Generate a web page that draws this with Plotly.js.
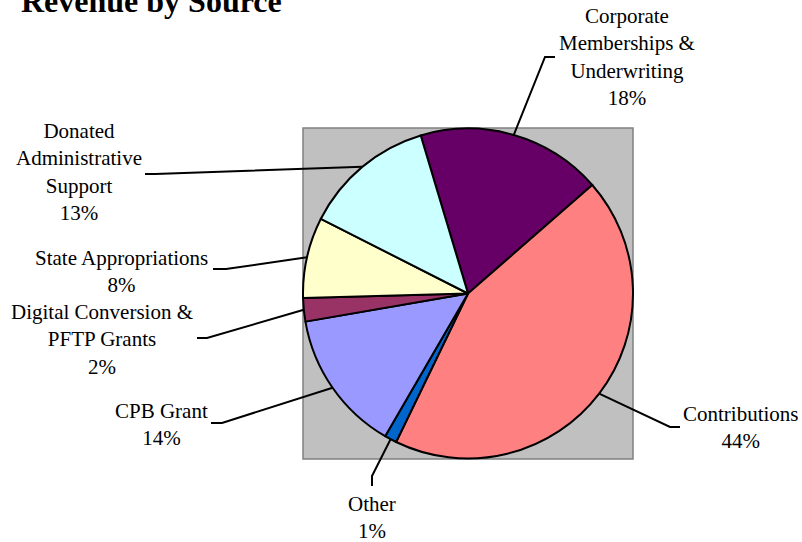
<!DOCTYPE html>
<html>
<head>
<meta charset="utf-8">
<script src="https://cdn.plot.ly/plotly-3.0.1.min.js"></script>
<style>html,body{margin:0;padding:0;background:#fff;}#chart{width:802px;height:542px;}</style>
</head>
<body>
<div id="chart"></div>
<script>
// ---- data ----
var categories = ["Corporate Memberships & Underwriting", "Contributions", "Other", "CPB Grant", "Digital Conversion & PFTP Grants", "State Appropriations", "Donated Administrative Support"];
var labelLines = ["Corporate<br>Memberships &<br>Underwriting", "Contributions", "Other", "CPB Grant", "Digital Conversion &<br>PFTP Grants", "State Appropriations", "Donated<br>Administrative<br>Support"];
var values = [18.2, 43.6, 1.2, 13.9, 2.3, 7.9, 12.9];
var colors = ["#660066", "#FF8080", "#0066CC", "#9999FF", "#993366", "#FFFFCC", "#CCFFFF"];
var titleText = "Revenue by Source";

// ---- layout (pixel positions) ----
var W = 802, H = 542;
var box = {x0: 303, x1: 633, y0: 128, y1: 459};
var rotation = -16.65;
// label block centres, anchor (where leader meets label) and elbow
var labelPos = [
  {cx: 627, cy: 57,  ax: 555, ay: 57,  ex: 545, ey: 57},
  {cx: 741, cy: 427, ax: 680, ay: 427, ex: 670, ey: 427},
  {cx: 372, cy: 517, ax: 372, ay: 486, ex: 372, ey: 476},
  {cx: 161, cy: 424, ax: 211, ay: 423, ex: 222, ey: 423},
  {cx: 102, cy: 339, ax: 197, ay: 338, ex: 207, ey: 338},
  {cx: 122, cy: 271, ax: 213, ay: 269, ex: 226, ey: 269},
  {cx: 79,  cy: 172, ax: 145, ay: 174, ex: 155, ey: 174}
];

function px(x) { return x / W; }
function py(y) { return 1 - y / H; }

var total = values.reduce(function (a, b) { return a + b; }, 0);
var cx = (box.x0 + box.x1) / 2, cy = (box.y0 + box.y1) / 2;
var r = Math.min(box.x1 - box.x0, box.y1 - box.y0) / 2;

var annotations = [];
var shapes = [{
  type: 'rect', xref: 'paper', yref: 'paper', layer: 'below',
  x0: px(box.x0), x1: px(box.x1), y0: py(box.y1), y1: py(box.y0),
  fillcolor: '#C0C0C0', line: {color: '#808080', width: 1.5}
}];

var acc = 0;
for (var i = 0; i < values.length; i++) {
  var mid = (rotation + (acc + values[i] / 2) / total * 360) * Math.PI / 180;
  acc += values[i];
  var exX = cx + r * Math.sin(mid), exY = cy - r * Math.cos(mid);
  var lp = labelPos[i];
  var pct = Math.round(values[i] / total * 100) + '%';
  annotations.push({
    xref: 'paper', yref: 'paper', x: px(lp.cx), y: py(lp.cy),
    xanchor: 'center', yanchor: 'middle', align: 'center', showarrow: false,
    text: labelLines[i] + '<br>' + pct,
    font: {family: 'Liberation Serif, Times New Roman, serif', size: 21, color: '#000'}
  });
  shapes.push({
    type: 'path', xref: 'paper', yref: 'paper', layer: 'above',
    path: 'M' + px(lp.ax) + ',' + py(lp.ay) + ' L' + px(lp.ex) + ',' + py(lp.ey) + ' L' + px(exX) + ',' + py(exY),
    line: {color: '#000', width: 2}
  });
}

annotations.push({
  xref: 'paper', yref: 'paper', x: px(20), y: py(20), xanchor: 'left', yanchor: 'bottom',
  showarrow: false, text: '<b>' + titleText + '</b>', borderpad: 0,
  font: {family: 'Liberation Serif, Times New Roman, serif', size: 32, color: '#000'}
});

var trace = {
  type: 'pie', labels: categories, values: values, sort: false,
  direction: 'clockwise', rotation: rotation,
  marker: {colors: colors, line: {color: '#000', width: 2}},
  textinfo: 'none', hoverinfo: 'label+percent',
  domain: {x: [px(box.x0), px(box.x1)], y: [py(box.y1), py(box.y0)]}
};

var layout = {
  width: W, height: H, margin: {l: 0, r: 0, t: 0, b: 0},
  paper_bgcolor: '#fff', plot_bgcolor: '#fff', showlegend: false,
  annotations: annotations, shapes: shapes
};

Plotly.newPlot('chart', [trace], layout, {displayModeBar: false, staticPlot: true});
</script>
</body>
</html>
